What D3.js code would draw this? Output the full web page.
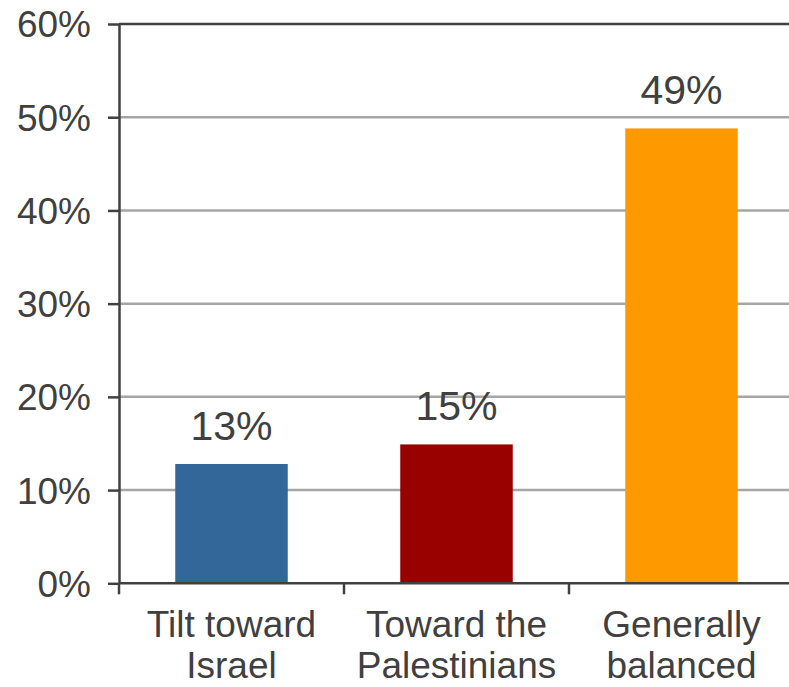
<!DOCTYPE html>
<html lang="en">
<head>
<meta charset="utf-8">
<title>Tilt</title>
<script src="https://cdn.jsdelivr.net/npm/d3@7"></script>
<style>
  body { margin: 0; background: #fff; }
  text { font-family: "Liberation Sans", Arial, sans-serif; fill: #404040; }
</style>
</head>
<body>
<script>
// data
const categories = ["Tilt toward Israel", "Toward the Palestinians", "Generally balanced"];
const labelLines = [["Tilt toward", "Israel"], ["Toward the", "Palestinians"], ["Generally", "balanced"]];
const values = [12.8, 14.9, 48.8];
const colors = ["#336699", "#990000", "#FF9900"];
const yTicks = [0, 10, 20, 30, 40, 50, 60];

const width = 789, height = 687;
const plotLeft = 119, plotBottom = 583.3, plotTop = 24;

const svg = d3.select("body").append("svg")
    .attr("width", width)
    .attr("height", height);

const x = d3.scaleBand()
    .domain(categories)
    .range([plotLeft, plotLeft + 225 * 3])
    .paddingInner(0.5)
    .paddingOuter(0.25);

const y = d3.scaleLinear()
    .domain([0, 60])
    .range([plotBottom, plotTop]);

// gridlines
svg.append("g").selectAll("line")
    .data(yTicks.filter(d => d > 0))
    .enter().append("line")
    .attr("x1", plotLeft).attr("x2", width)
    .attr("y1", d => y(d)).attr("y2", d => y(d))
    .attr("stroke", d => d === 60 ? "#404040" : "#a6a6a6")
    .attr("stroke-width", 2.5);

// bars
svg.append("g").selectAll("rect")
    .data(values)
    .enter().append("rect")
    .attr("x", (d, i) => x(categories[i]))
    .attr("y", d => y(d))
    .attr("width", x.bandwidth())
    .attr("height", d => plotBottom - y(d))
    .attr("fill", (d, i) => colors[i]);

// value labels
svg.append("g").selectAll("text")
    .data(values)
    .enter().append("text")
    .attr("x", (d, i) => x(categories[i]) + x.bandwidth() / 2)
    .attr("y", d => y(d) - 24)
    .attr("text-anchor", "middle")
    .style("font-size", "41px")
    .text(d => Math.round(d) + "%");

// y axis
const gY = svg.append("g")
    .attr("transform", `translate(${plotLeft},0)`)
    .call(d3.axisLeft(y).tickValues(yTicks).tickSize(11).tickSizeOuter(0).tickPadding(17)
        .tickFormat(d => d + "%"));
gY.select(".domain").attr("stroke", "#404040").attr("stroke-width", 2.5);
gY.selectAll(".tick line").attr("stroke", "#404040").attr("stroke-width", 2.5);
gY.selectAll(".tick text").style("font-size", "37px").attr("fill", "#404040")
    .attr("dy", "0.35em");
gY.attr("font-family", null).attr("font-size", null);

// x axis
const step = x.step();
const bounds = d3.range(categories.length + 1).map(i => plotLeft + i * step);
svg.append("line")
    .attr("x1", plotLeft).attr("x2", width)
    .attr("y1", plotBottom).attr("y2", plotBottom)
    .attr("stroke", "#404040").attr("stroke-width", 2.5);
svg.append("g").selectAll("line")
    .data(bounds)
    .enter().append("line")
    .attr("x1", d => d).attr("x2", d => d)
    .attr("y1", plotBottom).attr("y2", plotBottom + 11)
    .attr("stroke", "#404040").attr("stroke-width", 2.5);

const xl = svg.append("g").selectAll("text")
    .data(categories)
    .enter().append("text")
    .attr("text-anchor", "middle")
    .style("font-size", "37px");
xl.each(function (c, i) {
    const cx = x(c) + x.bandwidth() / 2;
    d3.select(this).selectAll("tspan")
        .data(labelLines[i])
        .enter().append("tspan")
        .attr("x", cx)
        .attr("y", (d, j) => 637 + j * 40.5)
        .text(d => d);
});
</script>
</body>
</html>
